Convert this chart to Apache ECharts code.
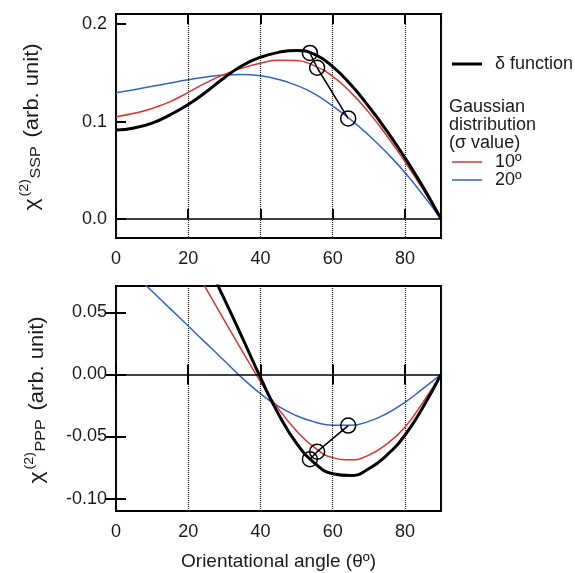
<!DOCTYPE html>
<head>
    <meta charset="utf-8"/>
    <style>
        html, body {
            height: 100%;
            margin: 0;
        }
        body {
            background-color: #fff;
        }
    </style>
    <script src="https://cdn.jsdelivr.net/npm/echarts@6/dist/echarts.min.js"></script>
</head>
<body>
<div id="main" style="height: 573px; width: 575px;"></div>
<script type="text/javascript">
    // angles (deg)
    var theta = [0, 5, 10, 15, 20, 25, 30, 35, 40, 45, 50, 55, 60, 65, 70, 75, 80, 85, 90];
    // chi(2) SSP
    var sspDelta = [0.0913, 0.0935, 0.0985, 0.1070, 0.1176, 0.1306, 0.1451, 0.1576, 0.1661, 0.1711, 0.1731, 0.1690, 0.1565, 0.1380, 0.1155, 0.0905, 0.0630, 0.0330, 0];
    var sspG10 = [0.1050, 0.1085, 0.1135, 0.1205, 0.1300, 0.1400, 0.1485, 0.1550, 0.1600, 0.1630, 0.1628, 0.1573, 0.1465, 0.1300, 0.1095, 0.0855, 0.0590, 0.0305, 0];
    var sspG20 = [0.1296, 0.1328, 0.1362, 0.1397, 0.1430, 0.1458, 0.1478, 0.1484, 0.1470, 0.1433, 0.1372, 0.1285, 0.1160, 0.1020, 0.0860, 0.0680, 0.0478, 0.0248, 0];
    // chi(2) PPP
    var pppDelta = [null, null, null, null, 0.1180, 0.0905, 0.0607, 0.0295, -0.0025, -0.0320, -0.0555, -0.0715, -0.0800, -0.0815, -0.0760, -0.0650, -0.0490, -0.0265, 0];
    var pppG10 = [null, null, null, null, 0.0940, 0.0688, 0.0435, 0.0185, -0.0058, -0.0278, -0.0455, -0.0590, -0.0670, -0.0688, -0.0650, -0.0560, -0.0425, -0.0225, 0];
    var pppG20 = [0.0960, 0.0812, 0.0670, 0.0530, 0.0390, 0.0250, 0.0110, -0.0030, -0.0155, -0.0258, -0.0333, -0.0383, -0.0410, -0.0410, -0.0378, -0.0315, -0.0225, -0.0115, 0];
    // circled points
    var markTheta = [53.7, 55.7, 64.3];
    var markSsp = [0.1705, 0.1553, 0.1033];
    var markPpp = [-0.0683, -0.0622, -0.0412];

    var sspTicks = [0, 0.1, 0.2];
    var pppTicks = [-0.10, -0.05, 0, 0.05];

    var font = 'Liberation Sans, Arial, sans-serif';
    var ink = '#1a1a1a';
    var red = '#dc3232';
    var blue = '#3264c8';

    function pairs(xs, ys) {
        var out = [];
        for (var i = 0; i < xs.length; i++) {
            out.push([xs[i], ys[i]]);
        }
        return out;
    }

    function xAxisFor(gi, pos, labels, name) {
        return {
            type: 'value', gridIndex: gi, position: pos, min: 0, max: 90, interval: 20,
            name: name || '', nameLocation: 'middle', nameGap: 41,
            nameTextStyle: {fontSize: 19, color: ink, fontFamily: font},
            axisLine: {show: false},
            axisTick: {show: true, inside: true, length: 10, lineStyle: {color: '#000', width: 2}},
            axisLabel: {show: labels, showMaxLabel: false, fontSize: 18, color: ink, fontFamily: font, margin: 12},
            splitLine: {show: labels, lineStyle: {color: '#222', width: 1.2, type: [1, 1]}}
        };
    }

    function yAxisFor(gi, pos, min, max, ticks, digits, labels) {
        return {
            type: 'value', gridIndex: gi, position: pos, min: min, max: max,
            axisLine: {show: false},
            axisTick: {show: true, inside: true, length: 10, customValues: ticks, lineStyle: {color: '#000', width: 2}},
            axisLabel: {show: labels, customValues: ticks, fontSize: 18, color: ink, fontFamily: font, margin: 9,
                formatter: function (v) { return v.toFixed(digits); }},
            splitLine: {show: false}
        };
    }

    var zeroLine = {
        silent: true, symbol: 'none', label: {show: false}, animation: false,
        lineStyle: {color: '#000', width: 1.5, type: 'solid'},
        data: [{yAxis: 0}]
    };

    function curve(name, gi, ys, color, width, withZero) {
        var s = {
            name: name, type: 'line', xAxisIndex: gi * 2, yAxisIndex: gi === 0 ? 0 : 1,
            data: pairs(theta, ys), smooth: 0.5, showSymbol: false, symbol: 'none',
            lineStyle: {color: color, width: width}, itemStyle: {color: color}, z: 3
        };
        if (withZero) s.markLine = zeroLine;
        return s;
    }

    function circles(gi, ys) {
        return {
            name: 'marks', type: 'line', xAxisIndex: gi * 2, yAxisIndex: gi === 0 ? 0 : 1,
            data: pairs(markTheta, ys), symbol: 'circle', symbolSize: 15, showSymbol: true,
            lineStyle: {color: '#000', width: 1.5},
            itemStyle: {color: 'rgba(0,0,0,0)', borderColor: '#000', borderWidth: 1.5}, z: 5
        };
    }

    function titleGroup(x, y, sub) {
        return {
            type: 'group', x: x, y: y, rotation: Math.PI / 2, silent: true,
            children: [
                {type: 'text', x: -84, y: 0, scaleX: 1.1, style: {text: 'χ', fontSize: 21, fontFamily: font, fill: ink, verticalAlign: 'middle'}},
                {type: 'text', x: -70, y: -8, scaleX: 1.1, style: {text: '(2)', fontSize: 13, fontFamily: font, fill: ink, verticalAlign: 'middle'}},
                {type: 'text', x: -52, y: 4, scaleX: 1.15, style: {text: sub, fontSize: 14, fontFamily: font, fill: ink, verticalAlign: 'middle'}},
                {type: 'text', x: -11, y: 0, scaleX: 1.1, style: {text: '(arb. unit)', fontSize: 20, fontFamily: font, fill: ink, verticalAlign: 'middle'}}
            ]
        };
    }

    var myChart = echarts.init(document.getElementById('main'));
    var options = {
        animation: false,
        backgroundColor: '#fff',
        grid: [
            {left: 116, top: 14, width: 325, height: 224, show: true, borderColor: '#000', borderWidth: 2, backgroundColor: 'transparent'},
            {left: 116, top: 286, width: 325, height: 225, show: true, borderColor: '#000', borderWidth: 2, backgroundColor: 'transparent'}
        ],
        xAxis: [
            xAxisFor(0, 'bottom', true),
            xAxisFor(0, 'top', false),
            xAxisFor(1, 'bottom', true, 'Orientational angle (θº)'),
            xAxisFor(1, 'top', false)
        ],
        yAxis: [
            yAxisFor(0, 'left', -0.0195, 0.2105, sspTicks, 1, true),
            yAxisFor(1, 'left', -0.110, 0.0712, pppTicks, 2, true),
            yAxisFor(1, 'right', -0.110, 0.0712, pppTicks, 2, false)
        ],
        legend: [
            {data: ['δ function'], left: 452, top: 55, padding: 0, orient: 'vertical', icon: 'rect',
                itemWidth: 30, itemHeight: 3, selectedMode: false,
                textStyle: {fontSize: 18, color: ink, fontFamily: font, lineHeight: 18, padding: [0, 0, 0, 8]}},
            {data: ['10º', '20º'], left: 452, top: 153, padding: 0, orient: 'vertical', icon: 'rect',
                itemWidth: 30, itemHeight: 1.5, itemGap: 0, selectedMode: false,
                textStyle: {fontSize: 18, color: ink, fontFamily: font, lineHeight: 18, padding: [0, 0, 0, 8]}}
        ],
        graphic: [
            {type: 'text', left: 449, top: 98, silent: true,
                style: {text: 'Gaussian\ndistribution\n(σ value)', fontSize: 18, lineHeight: 18, fontFamily: font, fill: ink}},
            titleGroup(32, 126.5, 'SSP'),
            titleGroup(37, 399.5, 'PPP')
        ],
        series: [
            curve('20º', 0, sspG20, blue, 1.5, false),
            curve('10º', 0, sspG10, red, 1.5, false),
            curve('δ function', 0, sspDelta, '#000', 3, true),
            circles(0, markSsp),
            curve('20º', 1, pppG20, blue, 1.5, false),
            curve('10º', 1, pppG10, red, 1.5, false),
            curve('δ function', 1, pppDelta, '#000', 3, true),
            circles(1, markPpp)
        ]
    };
    myChart.setOption(options);
</script>
</body>
